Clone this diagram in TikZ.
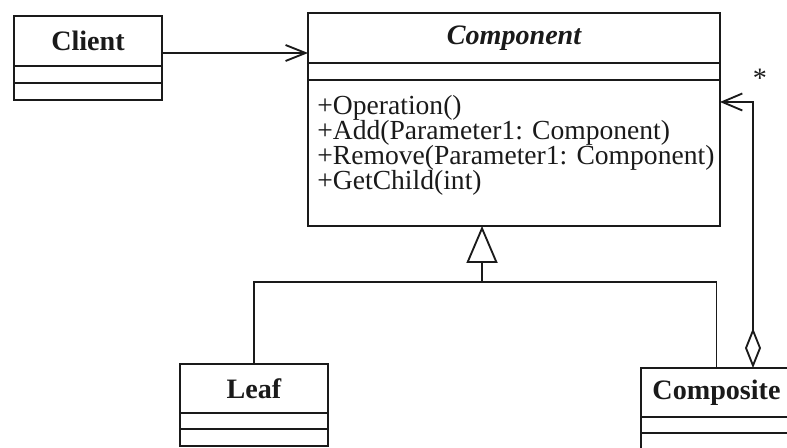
\documentclass[tikz,border=0pt]{standalone}
\usepackage{fontspec}
\setmainfont{Liberation Serif}
\usetikzlibrary{arrows.meta,calc,positioning}
\definecolor{umlInk}{HTML}{1A1A1A}
\tikzset{
  uml name/.style={
    draw=umlInk,
    line width=1.05pt,
    fill=white,
    inner sep=0pt,
    outer sep=0pt,
    font=\fontsize{16}{18}\selectfont\bfseries,
    text=umlInk
  },
  uml slot/.style={
    draw=umlInk,
    line width=1.05pt,
    inner sep=0pt,
    outer sep=0pt,
    anchor=north
  },
  uml op/.style={inner sep=0pt, font=\fontsize{15.7}{18}\selectfont, text=umlInk},
  uml link/.style={draw=umlInk, line width=1.05pt},
  uml assoc/.style={
    uml link,
    -{Straight Barb[length=4mm,width=3.2mm]}
  },
  uml generalization/.style={
    uml link,
    -{Triangle[open,length=7.4mm,width=6.2mm]}
  },
  uml aggregation/.style={
    uml link,
    {Diamond[open,length=8mm,width=3.2mm]}-{Straight Barb[length=4mm,width=3.4mm]}
  },
  uml mult/.style={inner sep=0pt, font=\fontsize{16}{18}\selectfont, text=umlInk}
}

\begin{document}
\begin{tikzpicture}[x=.02cm,y=-.02cm]
  \useasboundingbox (0,0) rectangle (787,447);

  % Client
  \node[uml name, minimum width=2.96cm, minimum height=1cm] (client) at (88,41) {Client};
  \node[uml slot, minimum width=2.96cm, minimum height=.34cm] (clientattr) at (client.south) {};
  \node[uml slot, minimum width=2.96cm, minimum height=.34cm] (clientops) at (clientattr.south) {};

  % Component
  \node[uml name, font=\fontsize{16}{18}\selectfont\bfseries\itshape,
    minimum width=8.24cm, minimum height=1cm] (component) at (514,38) {Component};
  \node[uml slot, minimum width=8.24cm, minimum height=.34cm] (componentattr) at (component.south) {};
  \node[uml slot, minimum width=8.24cm, minimum height=2.92cm] (componentops) at (componentattr.south) {};
  \foreach \op [count=\i] in {+Operation(), +Add(Parameter1: Component),
      +Remove(Parameter1: Component), +GetChild(int)} {
    \node[uml op, anchor=base west] (op\i)
      at ([xshift=.18cm, yshift={-.7cm-(\i-1)*.5cm}]componentops.north west) {\op};
  }

  % Leaf
  \node[uml name, minimum width=2.96cm, minimum height=.98cm] (leaf) at (254,388.5) {Leaf};
  \node[uml slot, minimum width=2.96cm, minimum height=.32cm] (leafattr) at (leaf.south) {};
  \node[uml slot, minimum width=2.96cm, minimum height=.34cm] (leafops) at (leafattr.south) {};

  % Composite
  \node[uml name, minimum width=3.02cm, minimum height=.98cm] (composite) at (716.5,392.5) {Composite};
  \node[uml slot, minimum width=3.02cm, minimum height=.32cm] (compositeattr) at (composite.south) {};
  \node[uml slot, minimum width=3.02cm, minimum height=.34cm] (compositeops) at (compositeattr.south) {};

  % links
  \coordinate (fork) at ([xshift=-.64cm, yshift=-1.12cm]componentops.south);
  \draw[uml link] (leaf.north) |- (fork);
  \draw[uml link] (composite.north) |- (fork);
  \draw[uml generalization] (fork) -- (fork |- componentops.south);
  \draw[uml assoc] ([yshift=-.24cm]client.east) -- ([yshift=-.24cm]client.east -| component.west);
  \draw[uml aggregation] ([xshift=.73cm]composite.north) |- ([yshift=1.02cm]componentops.east);
  \node[uml mult] (many) at (760,78) {*};
\end{tikzpicture}
\end{document}
